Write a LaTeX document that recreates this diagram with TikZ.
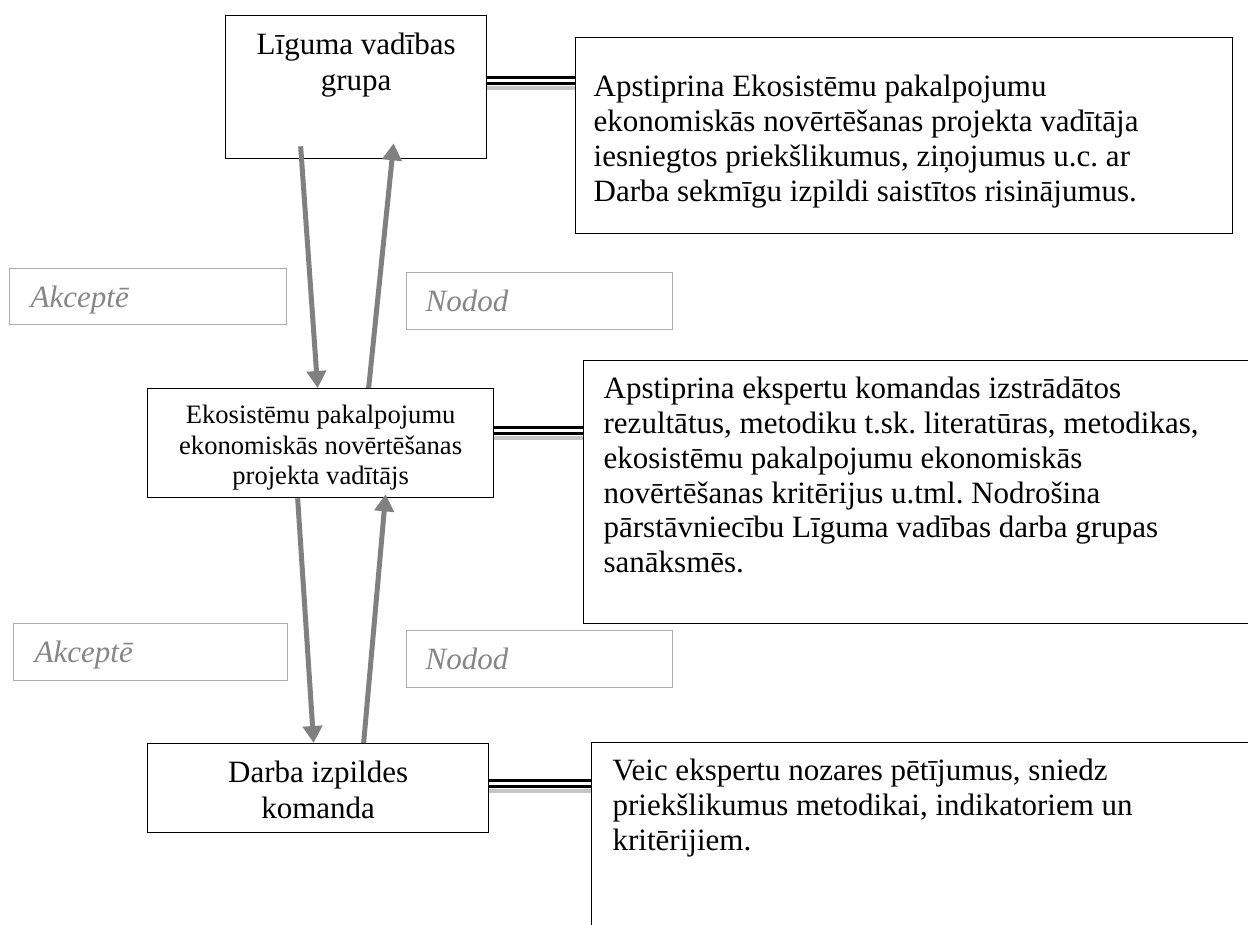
\documentclass[tikz,border=0pt]{standalone}
\usepackage{fontspec}
\setmainfont{Liberation Serif}
\usetikzlibrary{arrows.meta}
\frenchspacing

\tikzset{
	frame/.style={draw, line width=1.3pt, inner sep=0pt, anchor=north west},
	tag/.style={draw=gray!65, line width=1.3pt, inner sep=0pt, anchor=north west, text=gray!95, font=\fontsize{31}{35.7}\selectfont\itshape},
	flow/.style={draw=gray, line width=5pt, -{Triangle[width=19pt,length=17pt]}},
}

% width, height, alignment, first baseline, text
\newcommand{\boxtext}[5]{\parbox[c][#2][t]{#1}{#3\rule{0pt}{#4}#5}}

% three rules from one box to the other
\newcommand{\linkbar}[3]{%
	\foreach \dy/\lw/\col in {0/3/black, 6/2.6/black, 10.5/3.4/gray!45}
		\draw[line width=\lw pt, draw=\col] ([yshift={(#3-\dy)*1pt}]#1.east) -- ([yshift={(#3-\dy)*1pt}]#1.east -| #2.west);
}

\begin{document}
\begin{tikzpicture}[x=1pt, y=-1pt]
	\useasboundingbox (0,0) rectangle (1248,924);
	\fill[white] (0,0) rectangle (1248,924);
	\clip (0,0) rectangle (1248,924);

	\node[frame, font=\fontsize{31}{35.7}\selectfont] (lvg) at (225,15)
		{\boxtext{261pt}{143pt}{\centering}{39pt}{Līguma vadības\\grupa}};
	\node[frame, font=\fontsize{26.6}{30.6}\selectfont] (pv) at (147,388)
		{\boxtext{346pt}{109pt}{\centering}{35pt}{Ekosistēmu pakalpojumu\\ekonomiskās novērtēšanas\\projekta vadītājs}};
	\node[frame, font=\fontsize{31}{35.7}\selectfont] (dik) at (147,743)
		{\boxtext{341pt}{89pt}{\centering}{39pt}{Darba izpildes\\komanda}};

	\node[frame, font=\fontsize{31}{34.8}\selectfont] (r1) at (575,37)
		{\boxtext{657pt}{196pt}{\raggedright\leftskip=18pt}{59pt}{Apstiprina Ekosistēmu pakalpojumu\\ekonomiskās novērtēšanas projekta vadītāja\\iesniegtos priekšlikumus, ziņojumus u.c. ar\\Darba sekmīgu izpildi saistītos risinājumus.}};
	\node[frame, font=\fontsize{31}{34.8}\selectfont] (r2) at (583,360)
		{\boxtext{690pt}{263pt}{\raggedright\leftskip=20pt}{38pt}{Apstiprina ekspertu komandas izstrādātos\\rezultātus, metodiku t.sk. literatūras, metodikas,\\ekosistēmu pakalpojumu ekonomiskās\\novērtēšanas kritērijus u.tml. Nodrošina\\pārstāvniecību Līguma vadības darba grupas\\sanāksmēs.}};
	\node[frame, font=\fontsize{31}{34.8}\selectfont] (r3) at (591,742)
		{\boxtext{690pt}{220pt}{\raggedright\leftskip=21pt}{38pt}{Veic ekspertu nozares pētījumus, sniedz\\priekšlikumus metodikai, indikatoriem un\\kritērijiem.}};

	\node[tag] (ak1) at (9,268) {\boxtext{277pt}{56pt}{\leftskip=21pt}{39pt}{Akceptē}};
	\node[tag] (nd1) at (406,272) {\boxtext{266pt}{57pt}{\leftskip=19pt}{39pt}{Nodod}};
	\node[tag] (ak2) at (13,623) {\boxtext{274pt}{57pt}{\leftskip=21pt}{39pt}{Akceptē}};
	\node[tag] (nd2) at (406,630) {\boxtext{266pt}{57pt}{\leftskip=19pt}{39pt}{Nodod}};

	\draw[flow] ([xshift=-55.5pt,yshift=13pt]lvg.south) -- ([xshift=-3pt]pv.north);
	\draw[flow] ([xshift=48pt]pv.north) -- ([xshift=37.5pt,yshift=16pt]lvg.south);
	\draw[flow] ([xshift=-23pt]pv.south) -- ([xshift=-4.5pt]dik.north);
	\draw[flow] ([xshift=45.5pt]dik.north) -- ([xshift=65pt,yshift=4pt]pv.south);

	\linkbar{lvg}{r1}{9.5}
	\linkbar{pv}{r2}{15.5}
	\linkbar{dik}{r3}{7.5}
\end{tikzpicture}
\end{document}
